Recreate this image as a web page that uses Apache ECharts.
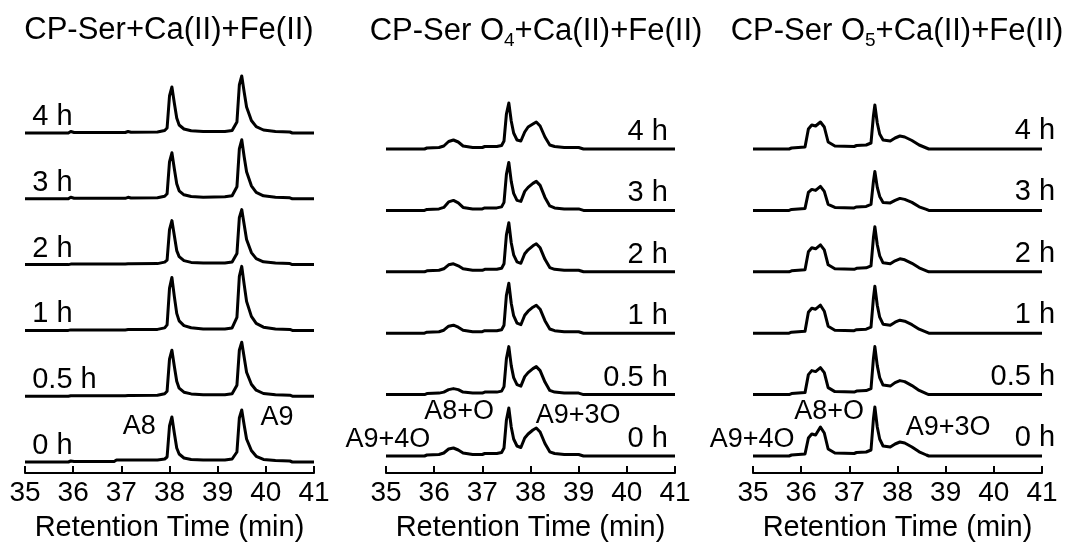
<!DOCTYPE html>
<html>
<head>
<meta charset="utf-8">
<script src="https://cdn.jsdelivr.net/npm/echarts@6/dist/echarts.min.js"></script>
<style>
  html, body { margin: 0; padding: 0; background: #fff; }
  #chart { width: 1074px; height: 548px; }
</style>
</head>
<body>
<div id="chart"></div>
<script>
// Incubation times, one stacked trace each (bottom to top)
const HOURS = ['0 h', '0.5 h', '1 h', '2 h', '3 h', '4 h'];

// CP-Ser + Ca(II) + Fe(II): retention times (min) and intensities
const TIME_SER = [35.0, 35.9, 35.95, 36.02, 36.85, 36.9, 37.08, 37.14, 37.2, 37.75, 37.9, 37.95, 38.0, 38.05, 38.1, 38.15, 38.2, 38.3, 38.45, 38.7, 39.15, 39.3, 39.4, 39.45, 39.5, 39.55, 39.6, 39.7, 39.8, 39.95, 40.2, 40.5, 40.55, 41.0];
const SER_0H  = [0, 0, 1, 0.5, 0.5, 2, 2, 2, 2, 2, 3, 5, 36, 45, 29, 14, 8, 4, 2.5, 2, 2, 3, 10, 44, 52, 37, 23, 11.5, 5.7, 2.6, 1.5, 1, 0, 0];
const SER_05H = [0, 0, 0.5, 0.5, 0.5, 0.5, 0.5, 0.8, 0.8, 1, 2.5, 5, 37, 46, 30, 15, 8, 4, 2.3, 1.5, 1.5, 2.5, 11, 46, 54, 39, 24, 12, 6, 2.7, 1.5, 1, 0, 0];
const SER_1H  = [0, 0, 0.5, 0.5, 0.5, 0.5, 0.5, 0.8, 0.8, 1, 2.5, 5.5, 42, 53, 34, 17, 9.5, 4.8, 2.7, 1.5, 1.5, 2.5, 13, 54, 64, 46, 29, 14, 7, 3.2, 1.5, 1, 0, 0];
const SER_2H  = [0, 0, 0.5, 0.5, 0.5, 0.5, 0.5, 0.8, 0.8, 1, 2.5, 4.5, 35, 44, 29, 14, 8, 4, 2.2, 1.5, 1.5, 2.5, 11, 47, 55, 40, 25, 12, 6, 2.8, 1.5, 1, 0, 0];
const SER_3H  = [0, 0, 1.5, 0.5, 0.5, 0.5, 0.5, 1.5, 0.8, 1, 2.5, 5, 37, 46, 30, 15, 8, 4, 2.3, 1.5, 2, 3, 12, 50, 59, 42, 27, 13, 6.5, 3, 1.5, 1, 0, 0];
const SER_4H  = [0, 0, 1.5, 0.5, 0.5, 0.5, 0.5, 1.5, 0.8, 1, 2.5, 5, 37, 46, 30, 15, 8, 4, 2.3, 1.5, 1.5, 2.5, 11, 48, 57, 41, 26, 12.5, 6.3, 3, 1.5, 1, 0, 0];

// CP-Ser O4 + Ca(II) + Fe(II)
const TIME_O4 = [35.0, 35.8, 35.85, 36.1, 36.2, 36.3, 36.4, 36.5, 36.6, 36.8, 37.0, 37.05, 37.3, 37.4, 37.45, 37.5, 37.55, 37.6, 37.65, 37.72, 37.8, 37.88, 37.95, 38.05, 38.12, 38.2, 38.3, 38.4, 38.5, 38.7, 39.0, 39.1, 41.0];
const O4_0H  = [0, 0, 1, 1.5, 3, 7, 8, 6, 3, 1.5, 1.5, 2.5, 2.5, 3.5, 8, 36, 48, 29, 17, 10, 8.5, 18, 22, 26, 28, 24, 12.5, 4.2, 2.5, 1.5, 1.5, 0, 0];
const O4_05H = [0, 0, 1, 1.5, 2.5, 5, 6, 5, 2.5, 1.5, 1.5, 2.5, 2.5, 3.5, 8, 36, 48, 29, 17, 10, 8.5, 18, 22, 26, 28, 24, 12.5, 4.2, 2.5, 1.5, 1.5, 0, 0];
const O4_1H  = [0, 0, 1, 1.5, 3, 7, 8, 6, 3, 1.5, 1.5, 2.5, 2.5, 3.5, 8, 38, 50, 30, 17.5, 10, 8.5, 18, 22, 26, 28, 24, 12.5, 4.2, 2.5, 1.5, 1.5, 0, 0];
const O4_2H  = [0, 0, 1, 1.5, 3, 7, 8, 6, 3, 1.5, 1.5, 2.5, 2.5, 3.5, 8, 37, 49, 29, 17, 10, 8.5, 18, 22, 26, 28, 24, 12.5, 4.2, 2.5, 1.5, 1.5, 0, 0];
const O4_3H  = [0, 0, 1, 1.5, 3, 8.5, 10, 7.5, 3, 1.5, 1.5, 2.5, 2.5, 3.5, 8, 36, 48, 29, 17, 10, 9, 19, 23, 27, 29, 25, 13, 4.5, 2.5, 1.5, 1.5, 0, 0];
const O4_4H  = [0, 0, 1, 1.5, 3, 7.5, 9, 7, 3, 1.5, 1.5, 2.5, 2.5, 3.5, 8, 35, 46, 28, 16, 9, 8, 17, 22, 25, 27, 23, 12, 4, 2.5, 1.5, 1.5, 0, 0];

// CP-Ser O5 + Ca(II) + Fe(II)
const TIME_O5 = [35.0, 35.75, 35.8, 36.08, 36.15, 36.22, 36.3, 36.4, 36.48, 36.56, 36.7, 37.1, 37.15, 37.35, 37.45, 37.5, 37.53, 37.58, 37.63, 37.7, 37.85, 37.95, 38.05, 38.15, 38.3, 38.45, 38.6, 38.65, 41.0];
const O5_0H  = [0, 0, 1, 2, 18, 22, 21, 29, 23, 7, 3, 2.5, 3.5, 4, 6, 37, 49, 29, 17, 10, 9, 12, 14, 13, 9, 4.2, 1, 0, 0];
const O5_05H = [0, 0, 1, 2, 20, 24, 23, 27, 22, 7, 3, 2.5, 3.5, 4, 6, 36, 48, 29, 17, 9.5, 8.5, 12, 14, 13, 9, 4.2, 1, 0, 0];
const O5_1H  = [0, 0, 1, 2, 21, 25, 24, 28, 22, 7, 3, 2.5, 3.5, 4, 6, 35, 47, 28, 16, 9, 8, 11, 13, 12, 8.5, 4, 1, 0, 0];
const O5_2H  = [0, 0, 1, 2, 20, 24, 23, 27, 22, 7, 3, 2.5, 3.5, 4, 6, 34, 45, 27, 16, 9, 8, 11, 13, 12, 8.5, 4, 1, 0, 0];
const O5_3H  = [0, 0, 1, 2, 18, 21, 20, 24, 19, 6, 3, 2.5, 3.5, 4, 6, 29, 39, 23, 14, 8, 7.5, 10, 12, 11, 8, 3.6, 1, 0, 0];
const O5_4H  = [0, 0, 1, 2, 20, 24, 23, 27, 22, 7, 3, 2.5, 3.5, 4, 6, 33, 44, 26, 15, 9, 8, 11, 13, 12, 8.5, 4, 1, 0, 0];

const FONT = '"Liberation Sans", Arial, Helvetica, sans-serif';
const GRID_TOP = 60, GRID_H = 413, GRID_W = 289;

// Panel layout: grid position, vertical spacing of the stacked traces, label placement
const panels = [
  {
    left: 25, time: TIME_SER, traces: [SER_0H, SER_05H, SER_1H, SER_2H, SER_3H, SER_4H],
    base: 11, step: 65.8, labelX: 35.15, labelAlign: 'left', labelDy: 16,
    notes: [{ text: 'A8', t: 37.37, y: 46 }, { text: 'A9', t: 40.23, y: 55 }]
  },
  {
    left: 386, time: TIME_O4, traces: [O4_0H, O4_05H, O4_1H, O4_2H, O4_3H, O4_4H],
    base: 17, step: 61.4, labelX: 40.85, labelAlign: 'right', labelDy: 17,
    notes: [{ text: 'A8+O', t: 36.52, y: 61 }, { text: 'A9+3O', t: 38.99, y: 57 }, { text: 'A9+4O', t: 35.04, y: 33 }]
  },
  {
    left: 753, time: TIME_O5, traces: [O5_0H, O5_05H, O5_1H, O5_2H, O5_3H, O5_4H],
    base: 17, step: 61.4, labelX: 41.27, labelAlign: 'right', labelDy: 18,
    notes: [{ text: 'A8+O', t: 36.58, y: 61 }, { text: 'A9+3O', t: 39.05, y: 45 }, { text: 'A9+4O', t: 34.98, y: 33 }]
  }
];

const grid = [], xAxis = [], yAxis = [], series = [];

panels.forEach((p, i) => {
  grid.push({ left: p.left, top: GRID_TOP, width: GRID_W, height: GRID_H });
  xAxis.push({
    gridIndex: i, type: 'value', min: 35, max: 41, interval: 1,
    axisLine: { show: true, onZero: false, lineStyle: { color: '#000', width: 2 } },
    axisTick: { show: true, inside: true, length: 7, lineStyle: { color: '#000', width: 2 } },
    axisLabel: { fontSize: 28, color: '#000', margin: 6, fontFamily: FONT, showMinLabel: true, showMaxLabel: true },
    splitLine: { show: false },
    name: 'Retention Time (min)', nameLocation: 'middle', nameGap: 40,
    nameTextStyle: { fontSize: 29, color: '#000', fontFamily: FONT }
  });
  yAxis.push({ gridIndex: i, type: 'value', min: 0, max: GRID_H, show: false });

  // stacked chromatograms, each lifted by its row offset
  p.traces.forEach((vals, k) => {
    const off = p.base + k * p.step;
    series.push({
      type: 'line', xAxisIndex: i, yAxisIndex: i, silent: true, clip: false,
      symbol: 'none', smooth: false,
      lineStyle: { color: '#000', width: 3, join: 'round' },
      data: p.time.map((t, j) => [t, off + vals[j]])
    });
  });

  // time labels for each trace
  series.push({
    type: 'scatter', xAxisIndex: i, yAxisIndex: i, silent: true, clip: false,
    symbolSize: 0, itemStyle: { opacity: 1 },
    data: HOURS.map((h, k) => ({ name: h, value: [p.labelX, p.base + k * p.step + p.labelDy] })),
    label: {
      show: true, position: 'inside', formatter: '{b}', align: p.labelAlign, verticalAlign: 'middle',
      fontSize: 29, color: '#000', opacity: 1, fontFamily: FONT
    }
  });

  // peak assignments
  series.push({
    type: 'scatter', xAxisIndex: i, yAxisIndex: i, silent: true, clip: false,
    symbolSize: 0, itemStyle: { opacity: 1 },
    data: p.notes.map(n => ({ name: n.text, value: [n.t, n.y] })),
    label: {
      show: true, position: 'inside', formatter: '{b}', align: 'center', verticalAlign: 'middle',
      fontSize: 27, color: '#000', opacity: 1, fontFamily: FONT
    }
  });
});

const titleRich = {
  a: { fontSize: 31, lineHeight: 34, verticalAlign: 'top', fontFamily: FONT, fill: '#000', color: '#000' },
  s: { fontSize: 19, lineHeight: 19, padding: [22, 0, 0, 0], verticalAlign: 'bottom', fontFamily: FONT, fill: '#000', color: '#000' }
};

const chart = echarts.init(document.getElementById('chart'), null, { renderer: 'canvas' });
chart.setOption({
  animation: false,
  backgroundColor: '#fff',
  grid, xAxis, yAxis, series,
  graphic: [
    { type: 'text', x: 169, y: 30, silent: true,
      style: { text: 'CP-Ser+Ca(II)+Fe(II)', font: '31px ' + FONT, fill: '#000', align: 'center', verticalAlign: 'middle' } },
    { type: 'text', x: 536, y: 33, silent: true,
      style: { text: '{a|CP-Ser O}{s|4}{a|+Ca(II)+Fe(II)}', rich: titleRich, fill: '#000', align: 'center', verticalAlign: 'middle' } },
    { type: 'text', x: 897, y: 33, silent: true,
      style: { text: '{a|CP-Ser O}{s|5}{a|+Ca(II)+Fe(II)}', rich: titleRich, fill: '#000', align: 'center', verticalAlign: 'middle' } }
  ]
});
</script>
</body>
</html>
